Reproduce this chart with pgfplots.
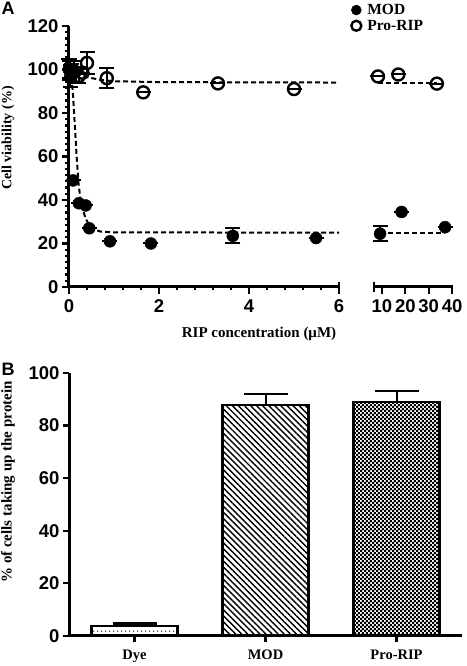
\documentclass[border=0pt]{standalone}
\usepackage{fontspec}
\setmainfont{Liberation Serif}
\setsansfont{Liberation Sans}
\usepackage{pgfplots}
\pgfplotsset{compat=1.18}
\usetikzlibrary{patterns,patterns.meta}
\pgfdeclarepatternformonly{checker}{\pgfqpoint{0pt}{0pt}}{\pgfqpoint{4.4pt}{4.4pt}}{\pgfqpoint{4.4pt}{4.4pt}}{%
 \pgfpathrectangle{\pgfqpoint{0pt}{0pt}}{\pgfqpoint{2.5pt}{2.5pt}}%
 \pgfpathrectangle{\pgfqpoint{2.2pt}{2.2pt}}{\pgfqpoint{2.5pt}{2.5pt}}%
 \pgfusepath{fill}}
\pgfdeclarepatternformonly{dotrow}{\pgfqpoint{0pt}{0pt}}{\pgfqpoint{4pt}{10pt}}{\pgfqpoint{4pt}{10pt}}{%
 \pgfpathrectangle{\pgfqpoint{1.5pt}{4.5pt}}{\pgfqpoint{1.1pt}{1.1pt}}%
 \pgfusepath{fill}}
\pgfplotsset{
 myaxis/.style={scale only axis, clip=false,
  axis line style={line width=3pt},
  every tick/.style={black, line width=2.2pt},
  tick align=outside, major tick length=7pt, minor tick length=3.5pt,
  tick label style={font=\sffamily\bfseries\fontsize{18.5}{18.5}\selectfont},
  /pgf/number format/assume math mode=true},
 fitline/.style={black, line width=2pt, dash pattern=on 5pt off 3pt, forget plot},
 modmark/.style={only marks, mark=*, mark size=6pt, black,
  error bars/.cd, y dir=both, y explicit, error bar style={line width=2pt},
  error mark options={black, line width=2pt, mark size=7.5pt, rotate=90}},
 promark/.style={only marks, mark=o, mark size=6pt, black, mark options={line width=2.4pt},
  error bars/.cd, y dir=both, y explicit, error bar style={line width=2pt},
  error mark options={black, line width=2pt, mark size=7.5pt, rotate=90}},
}
\begin{document}
\begin{tikzpicture}
\useasboundingbox (0,0) rectangle (466pt,666pt);
% Panel A left
\begin{axis}[myaxis, at={(69pt,379pt)}, anchor=south west,
  width=270pt, height=261pt, xmin=0, xmax=6, ymin=0, ymax=120,
  axis x line*=bottom, axis y line*=left,
  xtick={0,2,4,6}, minor x tick num=4,
  xticklabel style={yshift=-2pt},
  ytick={0,20,...,120}, minor y tick num=6,
  legend style={at={(axis description cs:1.045,1.092)}, anchor=north west, draw=none, fill=none,
    font=\bfseries\fontsize{15.5}{15.5}\selectfont, row sep=0pt, inner sep=0pt,
    /tikz/every odd column/.append style={column sep=4pt}},
  legend image post style={mark size=5pt},
  legend cell align=left]
\addplot[fitline] coordinates {(0,100) (0.05,98) (0.09,88) (0.13,74) (0.17,60) (0.21,48) (0.25,41) (0.3,36) (0.37,31.5) (0.45,28.5) (0.55,26.5) (0.7,25.5) (1,25.1) (6,25)};
\addplot[fitline] coordinates {(0,100) (0.1,99) (0.2,98) (0.4,96.5) (0.7,95.2) (1,94.6) (2,94.2) (6,94)};
\addplot[modmark] coordinates {
 (0,100) +- (0,5)
 (0.03,97) +- (0,5)
 (0.06,99.5) +- (0,3)
 (0.09,49) +- (0,0)
 (0.22,38.5) +- (0,0)
 (0.37,37.5) +- (0,0)
 (0.45,27) +- (0,0)
 (0.91,21) +- (0,0)
 (1.82,20) +- (0,0)
 (3.64,23.5) +- (0,3.5)
 (5.49,22.5) +- (0,0)};
\addlegendentry{MOD}
\addplot[promark] coordinates {
 (0.02,100) +- (0,4)
 (0.12,99) +- (0,5)
 (0.22,97) +- (0,3)
 (0.3,98.5) +- (0,0)
 (0.4,103) +- (0,5)
 (0.84,96) +- (0,4.5)
 (1.65,89.5) +- (0,0)
 (3.31,93.6) +- (0,0)
 (5.0,91) +- (0,0)};
\addlegendentry{Pro-RIP}
\draw[line width=2.2pt] (axis cs:6,0) -- ([yshift=5pt]axis cs:6,0);
\end{axis}
% Panel A right
\begin{axis}[myaxis, at={(374pt,379pt)}, anchor=south west,
  width=79pt, height=261pt, xmin=6.6, xmax=40.4, ymin=0, ymax=120,
  axis x line*=bottom, axis y line=none,
  xticklabel style={yshift=-2pt},
  xtick={10,20,30,40}]
\addplot[fitline] coordinates {(9.2,25) (37,25)};
\addplot[fitline] coordinates {(8.3,94) (33.5,94)};
\addplot[modmark] coordinates {
 (9.2,24.5) +- (0,3.5)
 (18.4,34.5) +- (0,0)
 (37,27.5) +- (0,0)};
\addplot[promark] coordinates {
 (8.3,96.8) +- (0,0)
 (17,97.7) +- (0,0)
 (33.5,93.5) +- (0,0)};
\draw[line width=2.2pt] ([yshift=-5pt]axis cs:6.6,0) -- ([yshift=5pt]axis cs:6.6,0);
\end{axis}
% Panel B
\begin{axis}[myaxis, at={(69pt,30pt)}, anchor=south west,
  width=393pt, height=263pt, xmin=-0.5, xmax=2.5, ymin=0, ymax=100,
  axis x line*=bottom, axis y line*=left,
  xtick={0,1,2}, xticklabels={Dye,MOD,Pro-RIP},
  xticklabel style={font=\bfseries\fontsize{14.5}{14.5}\selectfont, yshift=-4pt},
  ytick={0,20,...,100}, major tick length=6pt,
  ybar, bar width=86pt]
\addplot[bar shift=0pt, draw=black, line width=2.8pt, pattern=dotrow,
  error bars/.cd, y dir=plus, y explicit, error bar style={line width=2pt},
  error mark options={black, line width=3pt, mark size=22pt, rotate=90}]
  coordinates {(0,3.8) +- (0,1.1)};
\addplot[bar shift=0pt, draw=black, line width=2.8pt, pattern={Lines[angle=-45,distance=4.3pt,line width=1.4pt]},
  error bars/.cd, y dir=plus, y explicit, error bar style={line width=2pt},
  error mark options={black, line width=2pt, mark size=22pt, rotate=90}]
  coordinates {(1,87.8) +- (0,4.2)};
\addplot[bar shift=0pt, draw=black, line width=2.8pt, pattern=checker,
  error bars/.cd, y dir=plus, y explicit, error bar style={line width=2pt},
  error mark options={black, line width=2pt, mark size=22pt, rotate=90}]
  coordinates {(2,89) +- (0,4)};
\end{axis}
\node[font=\bfseries\fontsize{15}{15}\selectfont] at (259pt,332pt) {RIP concentration (μM)};
\node[rotate=90, font=\bfseries\fontsize{14}{14}\selectfont] at (8pt,528pt) {Cell viability (\%)};
\node[rotate=90, font=\bfseries\fontsize{15}{15}\selectfont] at (8pt,184pt) {\% of cells taking up the protein};
\node[font=\sffamily\bfseries\fontsize{18}{18}\selectfont] at (8pt,658pt) {A};
\node[font=\sffamily\bfseries\fontsize{18}{18}\selectfont] at (8pt,297pt) {B};
\end{tikzpicture}
\end{document}
